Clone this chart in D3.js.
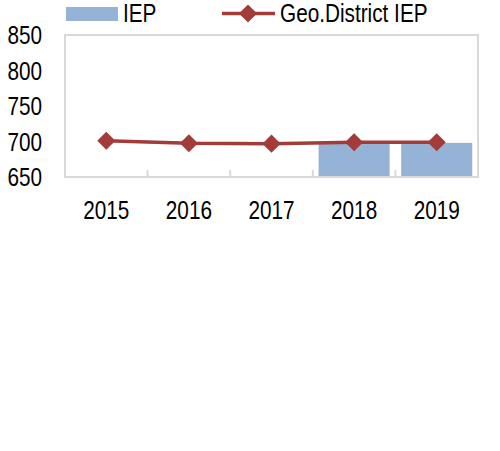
<!DOCTYPE html>
<html>
<head>
<meta charset="utf-8">
<script src="https://cdn.jsdelivr.net/npm/d3@7"></script>
<style>
  body { margin: 0; background: #fff; }
  text { font-family: "Liberation Sans Narrow", "Arial Narrow", "Liberation Sans", sans-serif; fill: #000; font-size: 25px; }
</style>
</head>
<body>
<div id="chart"></div>
<script>
var years = ["2015", "2016", "2017", "2018", "2019"];
var iepValues = [null, null, null, 697.5, 698];
var districtValues = [701, 697.5, 697, 699, 699];
var yTicks = [650, 700, 750, 800, 850];

var width = 500, height = 451;
var margin = {top: 35, right: 22, bottom: 274, left: 65};
var squeeze = 0.83; // narrow look for the labels

var svg = d3.select("#chart").append("svg")
    .attr("width", width)
    .attr("height", height);

var x = d3.scaleBand().domain(years)
    .range([margin.left, width - margin.right])
    .paddingInner(0.14).paddingOuter(0.07);
var xb = d3.scaleBand().domain(years)
    .range([margin.left, width - margin.right]);
var y = d3.scaleLinear().domain([650, 850])
    .range([height - margin.bottom, margin.top]);

function label(g, tx, ty, str, anchor) {
  return g.append("text")
    .attr("transform", "translate(" + tx + "," + ty + ") scale(" + squeeze + ",1)")
    .attr("text-anchor", anchor || "start")
    .text(str);
}

// bars
svg.selectAll("rect.bar")
  .data(years.map(function(d, i) { return {year: d, v: iepValues[i]}; })
    .filter(function(d) { return d.v != null; }))
  .enter().append("rect")
    .attr("class", "bar")
    .attr("x", function(d) { return x(d.year); })
    .attr("width", x.bandwidth())
    .attr("y", function(d) { return y(d.v); })
    .attr("height", function(d) { return y(650) - y(d.v); })
    .attr("fill", "#95b3d7");

// frame
svg.append("rect")
    .attr("x", margin.left)
    .attr("y", margin.top)
    .attr("width", width - margin.right - margin.left)
    .attr("height", y(650) - margin.top)
    .attr("fill", "none")
    .attr("stroke", "#d9d9d9")
    .attr("stroke-width", 2);

// x tick marks between categories
svg.selectAll("line.xtick")
  .data(years.slice(1))
  .enter().append("line")
    .attr("x1", function(d) { return xb(d); })
    .attr("x2", function(d) { return xb(d); })
    .attr("y1", y(650) - 7)
    .attr("y2", y(650))
    .attr("stroke", "#d9d9d9")
    .attr("stroke-width", 2);

// y labels
yTicks.forEach(function(t) {
  label(svg, 42, y(t) + 9, t, "end");
});

// x labels
years.forEach(function(yr) {
  label(svg, xb(yr) + xb.bandwidth() / 2, 219, yr, "middle");
});

// line
var line = d3.line()
    .x(function(d, i) { return xb(years[i]) + xb.bandwidth() / 2; })
    .y(function(d) { return y(d); });

svg.append("path")
    .datum(districtValues)
    .attr("fill", "none")
    .attr("stroke", "#a33b3b")
    .attr("stroke-width", 3.5)
    .attr("d", line);

var diamond = d3.symbol().type(d3.symbolDiamond2).size(210);
svg.selectAll("path.mark")
  .data(districtValues)
  .enter().append("path")
    .attr("class", "mark")
    .attr("d", diamond)
    .attr("transform", function(d, i) {
      return "translate(" + (xb(years[i]) + xb.bandwidth() / 2) + "," + y(d) + ")";
    })
    .attr("fill", "#a33b3b");

// legend
var lg = svg.append("g");
lg.append("rect")
    .attr("x", 66).attr("y", 7)
    .attr("width", 52).attr("height", 14)
    .attr("fill", "#95b3d7");
label(lg, 123, 22, "IEP");
lg.append("line")
    .attr("x1", 222).attr("x2", 275)
    .attr("y1", 13.5).attr("y2", 13.5)
    .attr("stroke", "#a33b3b").attr("stroke-width", 3.5);
lg.append("path")
    .attr("d", diamond)
    .attr("transform", "translate(248,13.5)")
    .attr("fill", "#a33b3b");
label(lg, 280, 22, "Geo.District IEP");
</script>
</body>
</html>
